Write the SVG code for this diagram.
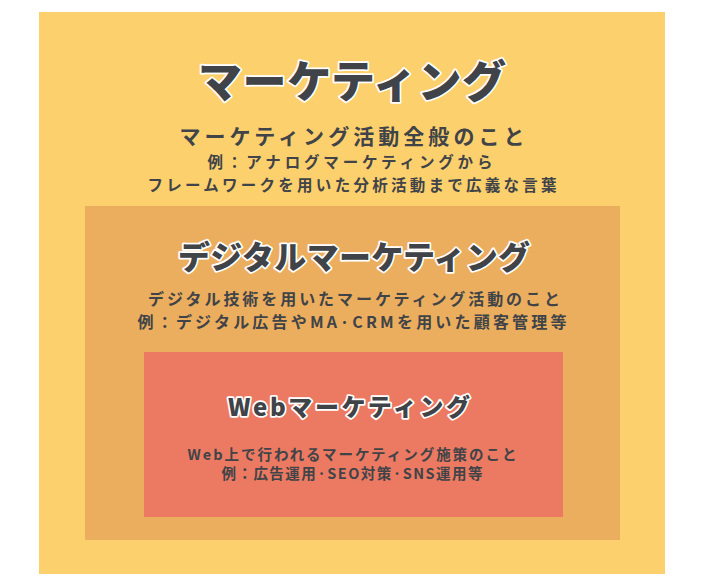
<svg xmlns="http://www.w3.org/2000/svg" width="705" height="584" viewBox="0 0 705 584">
<style>
text{font-family:"Noto Sans CJK JP","Noto Sans",sans-serif;fill:#404347;text-anchor:middle}
.h{font-weight:900;stroke:#fff;stroke-width:3.5;paint-order:stroke;stroke-linejoin:round}
.b{font-weight:700}
</style>
<rect width="705" height="584" fill="#fff"/>
<g id="marketing">
<rect x="39" y="12" width="626" height="562" fill="#FDD06E"/>
<text class="h" x="352" y="98" font-size="44" textLength="308">マーケティング</text>
<text class="b" x="352" y="144" font-size="21" textLength="345">マーケティング活動全般のこと</text>
<text class="b" x="350" y="168" font-size="15.5" textLength="285">例：アナログマーケティングから</text>
<text class="b" x="352" y="191" font-size="15.5" textLength="409">フレームワークを用いた分析活動まで広義な言葉</text>
</g>
<g id="digital">
<rect x="85" y="206" width="535" height="334" fill="#EBAE5E"/>
<text class="h" x="354" y="269" font-size="32" textLength="352">デジタルマーケティング</text>
<text class="b" x="354" y="305" font-size="16" textLength="412">デジタル技術を用いたマーケティング活動のこと</text>
<text class="b" x="352" y="328" font-size="16" textLength="429">例：デジタル広告やMA·CRMを用いた顧客管理等</text>
</g>
<g id="web">
<rect x="144" y="352" width="419" height="165" fill="#EC7A62"/>
<text class="h" x="349" y="416" font-size="24" textLength="242">Webマーケティング</text>
<text class="b" x="352" y="460" font-size="14.5" textLength="329">Web上で行われるマーケティング施策のこと</text>
<text class="b" x="352" y="479" font-size="14.5" textLength="261">例：広告運用·SEO対策·SNS運用等</text>
</g>
<g id="connectors"/>
</svg>
